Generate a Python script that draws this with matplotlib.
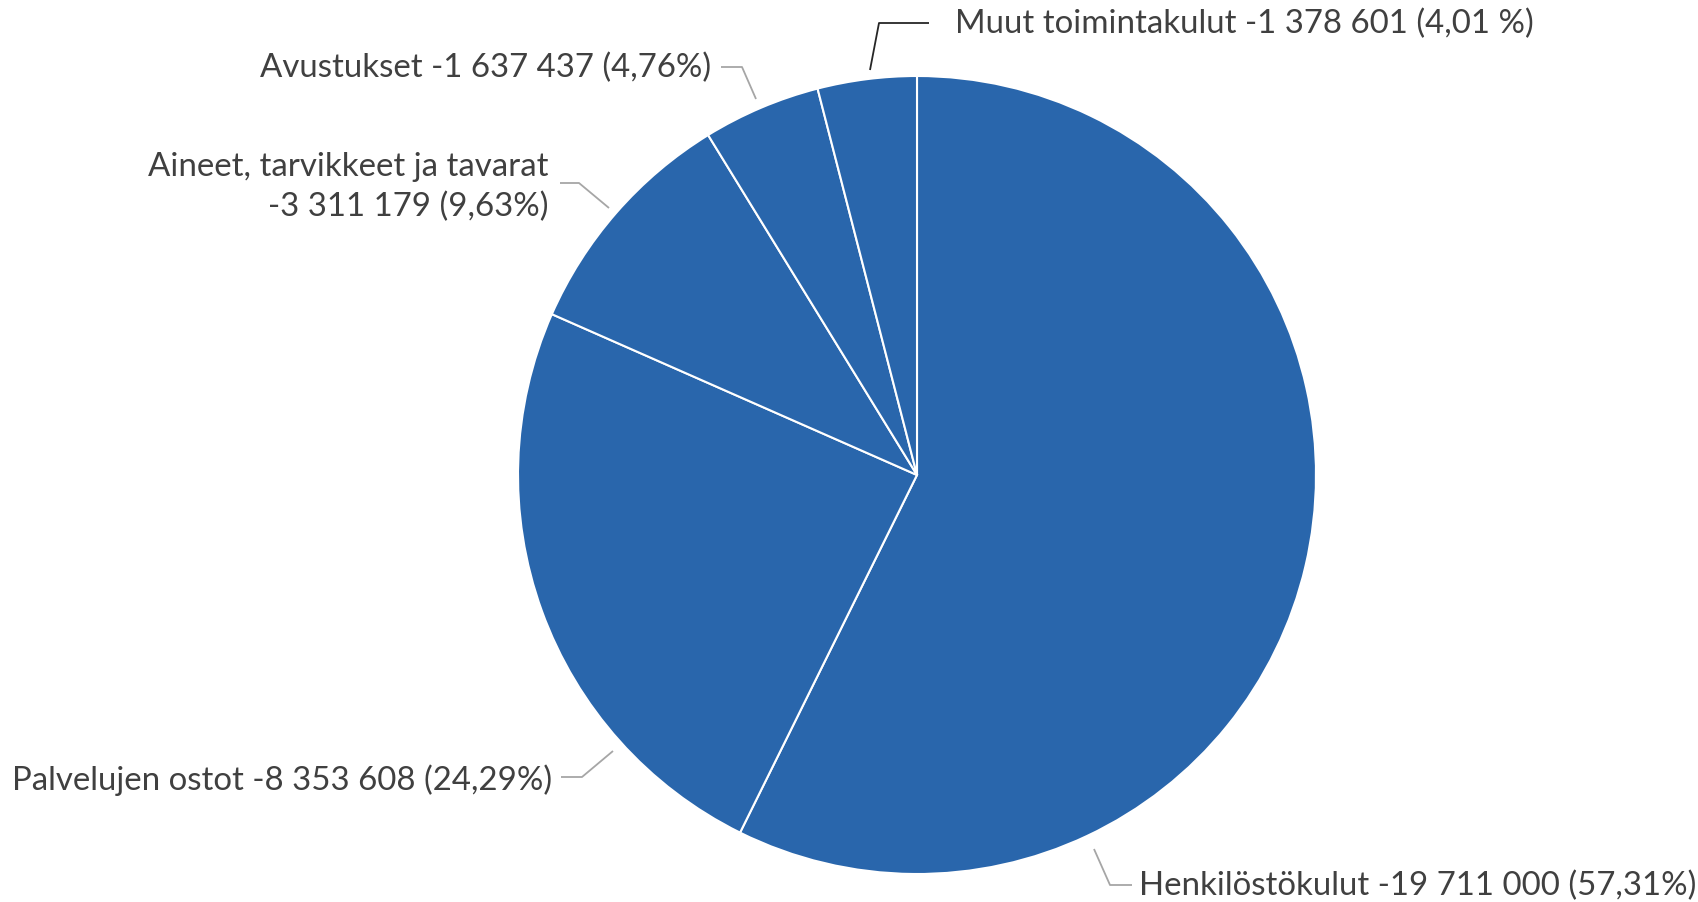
import matplotlib
matplotlib.use("Agg")
import matplotlib.pyplot as plt

labels = ["Henkilöstökulut", "Palvelujen ostot", "Aineet, tarvikkeet ja tavarat",
          "Avustukset", "Muut toimintakulut"]
values = [19711000, 8353608, 3311179, 1637437, 1378601]
value_text = ["-19 711 000", "-8 353 608", "-3 311 179", "-1 637 437", "-1 378 601"]
pct_text = ["(57,31%)", "(24,29%)", "(9,63%)", "(4,76%)", "(4,01 %)"]

W, H = 1698, 903
fig = plt.figure(figsize=(W / 100, H / 100), dpi=100)
ax = fig.add_axes([0, 0, 1, 1])

cx, cy, r = 917, H - 476, 399
ax.pie(values, center=(cx, cy), radius=r, startangle=90, counterclock=False,
       colors=["#2966ac"] * len(values),
       wedgeprops=dict(edgecolor="white", linewidth=1.5), frame=True)
ax.set_xlim(0, W)
ax.set_ylim(0, H)
ax.set_aspect("equal")
ax.axis("off")

font = "Lato"
fs = 23.8
tc = "#404040"

def y(v):
    return H - v

# label specs: (text, x, y_img, ha, line points in image coords, line colour)
specs = [
    (f"{labels[0]} {value_text[0]} {pct_text[0]}", 1139, 886, "left",
     [(1094, 850), (1110, 886), (1132, 886)], "#a6a6a6"),
    (f"{labels[1]} {value_text[1]} {pct_text[1]}", 552, 780, "right",
     [(613, 752), (582, 778), (561, 778)], "#a6a6a6"),
    (f"{labels[2]}\n{value_text[2]} {pct_text[2]}", 549, 187, "right",
     [(609, 209), (579, 184), (560, 184)], "#a6a6a6"),
    (f"{labels[3]} {value_text[3]} {pct_text[3]}", 711, 68, "right",
     [(756, 100), (742, 68), (721, 68)], "#a6a6a6"),
    (f"{labels[4]} {value_text[4]} {pct_text[4]}", 955, 24, "left",
     [(870, 71), (879, 24), (929, 24)], "#262626"),
]

for txt, tx, ty, ha, pts, lc in specs:
    ax.text(tx, y(ty), txt, ha=ha, va="center", fontsize=fs, family=font,
            color=tc, linespacing=1.38, multialignment="right")
    ax.plot([p[0] for p in pts], [y(p[1]) for p in pts], color=lc, lw=1.3,
            solid_capstyle="butt")

fig.savefig("out.png", dpi=100, facecolor="white")
